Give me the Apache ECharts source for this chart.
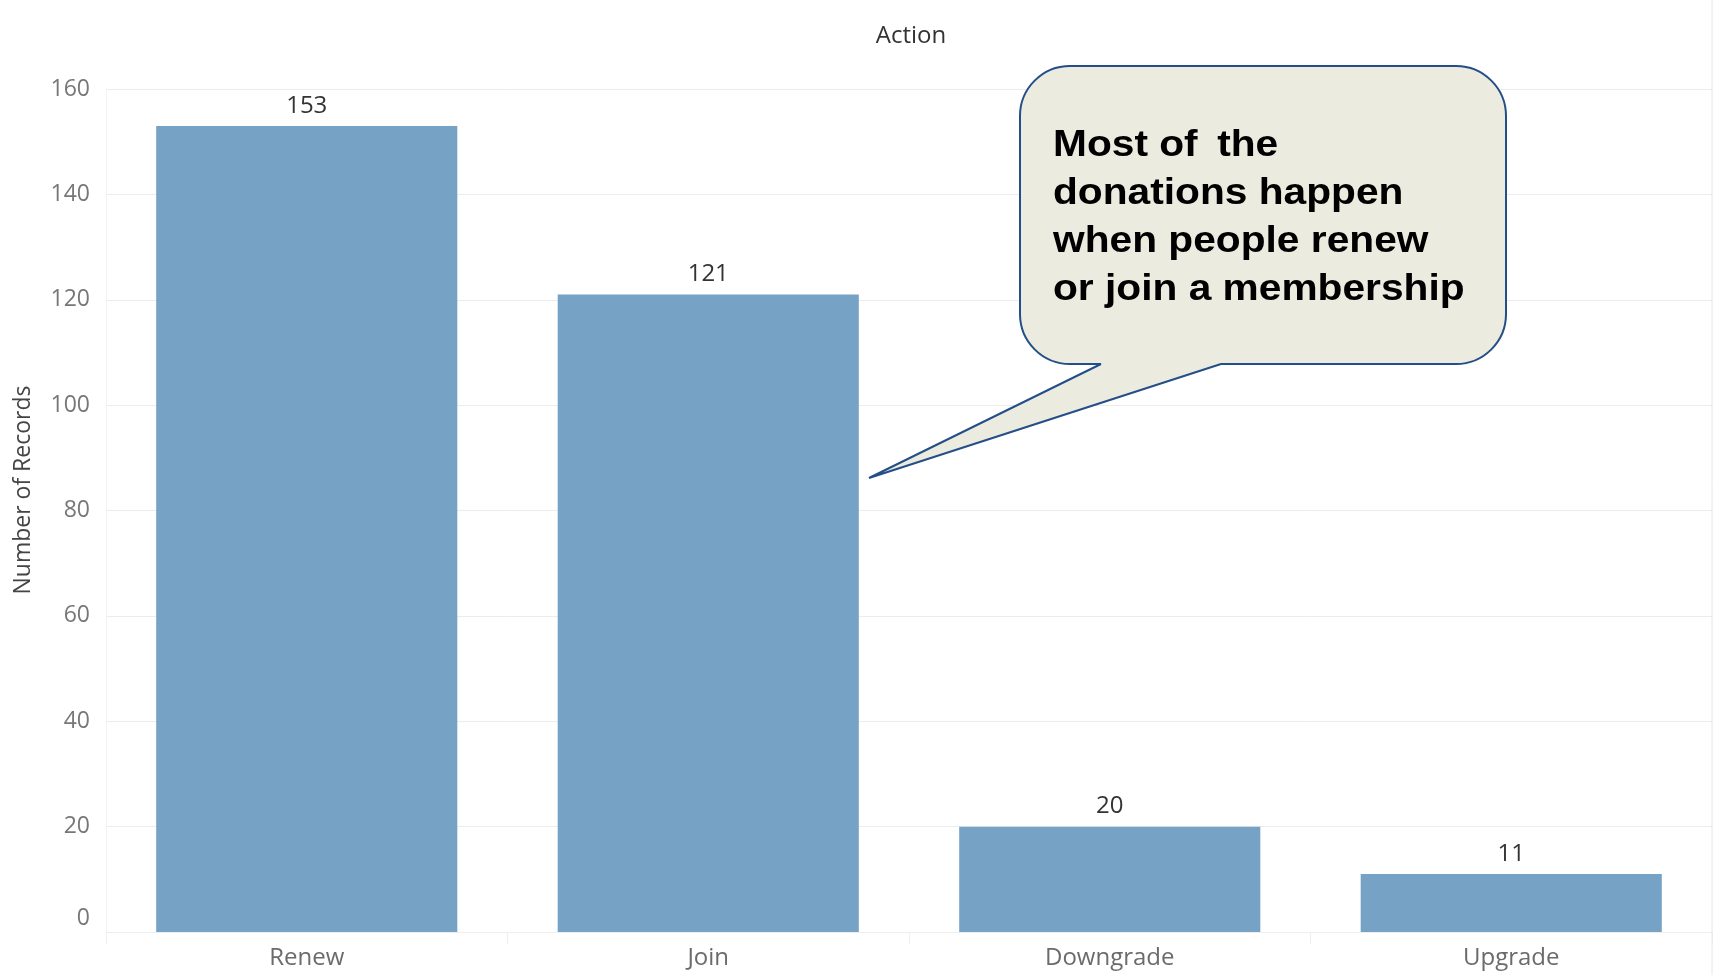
<!DOCTYPE html>
<html>
<head>
<meta charset="utf-8">
<title>Number of Records by Action</title>
<script src="https://cdn.jsdelivr.net/npm/echarts@6/dist/echarts.min.js"></script>
<style>
  html, body { margin: 0; padding: 0; background: #ffffff; }
  #chart { width: 1715px; height: 975px; }
</style>
</head>
<body>
<div id="chart"></div>
<script>
// Record counts per membership action
const categories = ['Renew', 'Join', 'Downgrade', 'Upgrade'];
const recordCounts = [153, 121, 20, 11];
const yTicks = [0, 20, 40, 60, 80, 100, 120, 140, 160];
const calloutLines = ['Most of\u2009 the', 'donations happen', 'when people renew', 'or join a membership'];

const axisFont = '"Open Sans", "DejaVu Sans", sans-serif';

const chart = echarts.init(document.getElementById('chart'), null, { renderer: 'canvas' });

chart.setOption({
  backgroundColor: '#ffffff',
  animation: false,
  title: {
    text: 'Action',
    left: 906,
    top: 19,
    textAlign: 'center',
    textStyle: { fontFamily: axisFont, fontSize: 24, fontWeight: 'normal', color: '#333333' }
  },
  grid: { left: 106, right: 3, top: 89, bottom: 43, containLabel: false },
  xAxis: {
    type: 'category',
    data: categories,
    axisLine: { show: true, lineStyle: { color: '#eeeeee', width: 1 } },
    axisTick: { show: true, length: 12, lineStyle: { color: '#eeeeee' } },
    axisLabel: { fontFamily: axisFont, fontSize: 24, color: '#6b6b6b', margin: 14 }
  },
  yAxis: {
    type: 'value',
    min: yTicks[0],
    max: yTicks[yTicks.length - 1],
    interval: 20,
    axisLine: { show: true, lineStyle: { color: '#f3f3f3', width: 1 } },
    axisTick: { show: false },
    axisLabel: {
      fontFamily: axisFont,
      fontSize: 23,
      color: '#777777',
      margin: 16,
      // the zero label sits a little above the baseline
      formatter: v => (v === 0 ? '{zero|0}' : String(v)),
      rich: { zero: { fontFamily: axisFont, fontSize: 23, color: '#777777', padding: [0, 0, 28, 0] } }
    },
    splitLine: { show: true, lineStyle: { color: '#ececec', width: 1 } }
  },
  series: [{
    type: 'bar',
    data: recordCounts,
    barWidth: '75%',
    itemStyle: { color: '#76a2c6' },
    label: {
      show: true,
      position: 'top',
      distance: 8,
      fontFamily: axisFont,
      fontSize: 24,
      color: '#333333'
    }
  }],
  graphic: [
    // value axis title
    {
      type: 'text',
      x: 23,
      y: 490,
      rotation: Math.PI / 2,
      style: {
        text: 'Number of Records',
        fontFamily: axisFont,
        fontSize: 23,
        fill: '#444444',
        align: 'center',
        verticalAlign: 'middle'
      },
      z: 5
    },
    // right frame line of the view
    {
      type: 'line',
      shape: { x1: 1712, y1: 0, x2: 1712, y2: 975 },
      style: { stroke: '#e6e6e6', lineWidth: 1 },
      z: 5
    },
    // speech bubble body
    {
      type: 'rect',
      shape: { x: 1020, y: 66, width: 486, height: 298, r: 50 },
      style: { fill: '#ecebe0', stroke: '#234e88', lineWidth: 2 },
      z: 10
    },
    // bubble tail fill, overlapping the body edge
    {
      type: 'polygon',
      shape: { points: [[1102, 358], [1101, 364], [869, 478], [1221, 364], [1219, 358]] },
      style: { fill: '#ecebe0' },
      z: 11
    },
    // bubble tail outline
    {
      type: 'polyline',
      shape: { points: [[1101, 364], [869, 478], [1221, 364]] },
      style: { stroke: '#234e88', lineWidth: 2, fill: null },
      z: 12
    },
    {
      type: 'text',
      x: 1053,
      y: 122,
      scaleX: 1.1,
      style: {
        text: calloutLines.join('\n'),
        fontFamily: '"Liberation Sans", Arial, sans-serif',
        fontWeight: 'bold',
        fontSize: 37,
        lineHeight: 48,
        fill: '#000000'
      },
      z: 13
    }
  ]
});
</script>
</body>
</html>
